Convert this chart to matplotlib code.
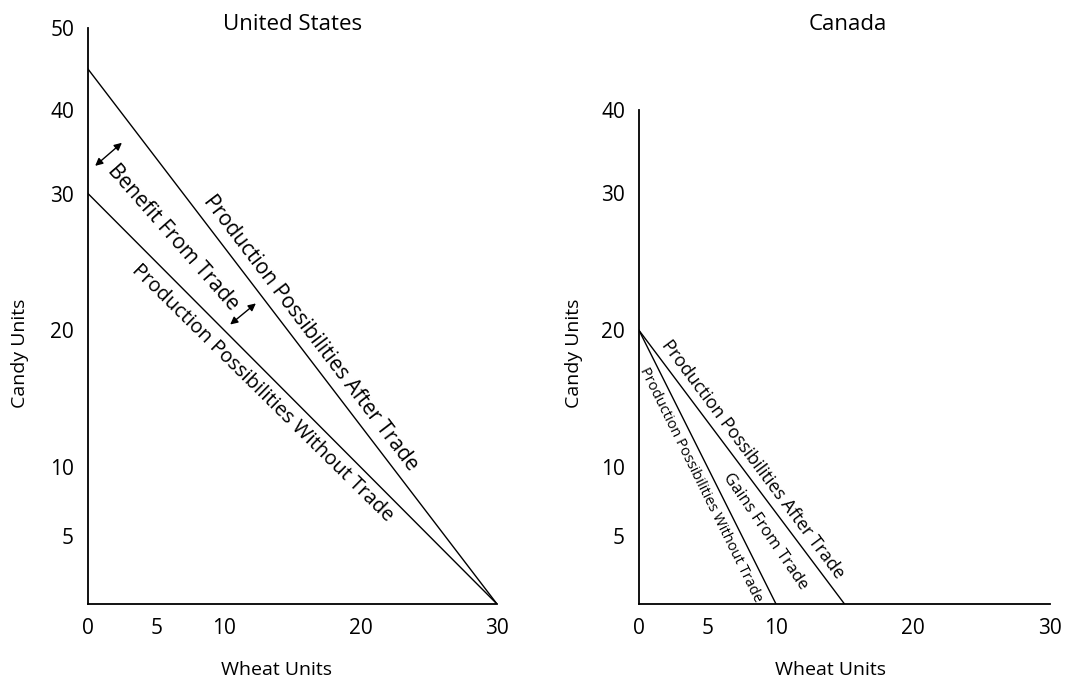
import matplotlib

matplotlib.use('Agg')
import matplotlib.pyplot as plt
import numpy as np

plt.rcParams['font.family'] = ['Open Sans', 'DejaVu Sans']

# data
wheat_us = [0, 30]
candy_us_without = [30, 0]
candy_us_after = [45, 0]

wheat_ca_without = [0, 10]
wheat_ca_after = [0, 15]
candy_ca = [20, 0]

x_ticks = [0, 5, 10, 20, 30]
y_ticks_us = [5, 10, 20, 30, 40, 50]
y_ticks_ca = [5, 10, 20, 30, 40]

# the candy axis is drawn squeezed above 30 in the original
y_vals = np.array([0, 5, 10, 20, 30, 40, 50])
y_pos = np.array([0, 5, 10, 20, 30, 36.1, 42.1])


def fwd(v):
    return np.interp(v, y_vals, y_pos, left=-1e9, right=1e9)


def inv(p):
    return np.interp(p, y_pos, y_vals)


W, H = 1065, 681
fig = plt.figure(figsize=(W / 100, H / 100), dpi=100)

ax1 = fig.add_axes([88 / W, 1 - 604 / H, 409 / W, 576 / H])
ax2 = fig.add_axes([639 / W, 1 - 604 / H, 411 / W, 494 / H])


def style(ax, ymax, yticks):
    ax.set_yscale('function', functions=(fwd, inv))
    ax.set_xlim(0, 30)
    ax.set_ylim(0, ymax)
    ax.set_xticks(x_ticks)
    ax.set_xticklabels([str(t) for t in x_ticks])
    ax.set_yticks(yticks)
    ax.set_yticklabels([str(t) for t in yticks])
    ax.minorticks_off()
    ax.tick_params(axis='y', length=0, labelsize=15, pad=10)
    ax.tick_params(axis='x', length=0, labelsize=15, pad=10)
    for s in ['top', 'right']:
        ax.spines[s].set_visible(False)
    for s in ['left', 'bottom']:
        ax.spines[s].set_linewidth(1.3)
    ax.set_xlabel('Wheat Units', fontsize=14)
    ax.set_ylabel('Candy Units', fontsize=14)
    ax.patch.set_alpha(0)


style(ax1, 50, y_ticks_us)
style(ax2, 40, y_ticks_ca)

ax1.xaxis.set_label_coords(-16 / 409 + 0.5, -57 / 576)
ax2.xaxis.set_label_coords(-14 / 411 + 0.5, -57 / 494)
ax1.yaxis.set_label_coords(-59 / 409, (604 - 353) / 576)
ax2.yaxis.set_label_coords(-56 / 411, (604 - 353) / 494)

fig.text(293 / W, 1 - 24 / H, 'United States', ha='center', va='center', fontsize=16)
fig.text(848 / W, 1 - 24 / H, 'Canada', ha='center', va='center', fontsize=16)

lw = 1.0
ax1.plot(wheat_us, candy_us_after, color='black', lw=lw)
ax1.plot(wheat_us, candy_us_without, color='black', lw=lw)
ax2.plot(wheat_ca_without, candy_ca, color='black', lw=lw)
ax2.plot(wheat_ca_after, candy_ca, color='black', lw=lw)

kw = dict(ha='center', va='center', rotation_mode='anchor')
ax1.text(16.3, 19.8, 'Production Possibilities After Trade', rotation=-52.7, fontsize=15, **kw)
ax1.text(12.8, 15.4, 'Production Possibilities Without Trade', rotation=-44.5, fontsize=14.5, **kw)
ax1.text(6.2, 26.8, 'Benefit From Trade', rotation=-48.6, fontsize=15, **kw)

arrow = dict(arrowstyle='<|-|>', color='black', lw=1.0, mutation_scale=11)
ax1.annotate('', xy=(2.64, 36.3), xytext=(0.37, 33.1), arrowprops=arrow)
ax1.annotate('', xy=(12.47, 22.1), xytext=(10.27, 20.3), arrowprops=arrow)

ax2.text(8.3, 10.6, 'Production Possibilities After Trade', rotation=-53.2, fontsize=13, **kw)
ax2.text(9.2, 5.3, 'Gains From Trade', rotation=-55.5, fontsize=12, **kw)
ax2.text(4.5, 8.7, 'Production Possibilities Without Trade', rotation=-63.7, fontsize=10.5, **kw)

fig.savefig('out.png', dpi=100, facecolor='white')
